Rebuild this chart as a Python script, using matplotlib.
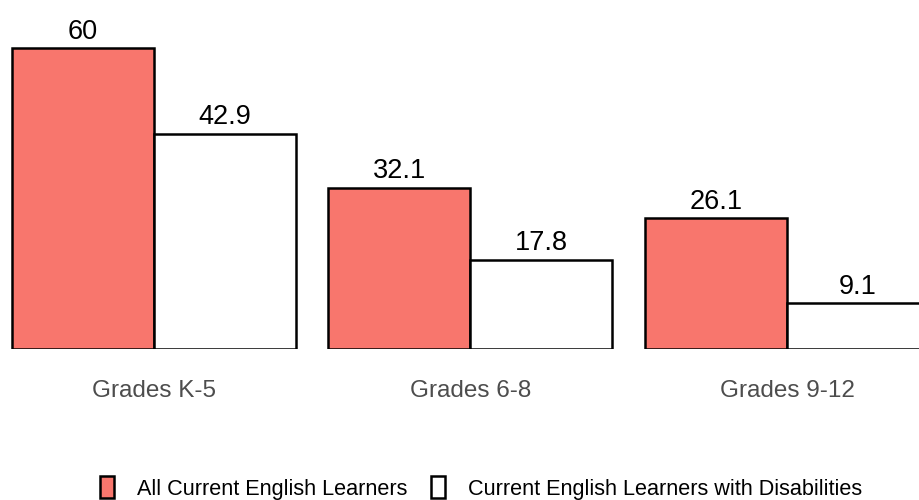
import matplotlib
matplotlib.use("Agg")
import matplotlib.pyplot as plt
import numpy as np
from matplotlib.patches import Patch

categories = ["Grades K-5", "Grades 6-8", "Grades 9-12"]
series_names = ["All Current English Learners", "Current English Learners with Disabilities"]
all_el = [60, 32.1, 26.1]
el_dis = [42.9, 17.8, 9.1]
value_labels_all = ["60", "32.1", "26.1"]
value_labels_dis = ["42.9", "17.8", "9.1"]

colors = ["#F8766D", "#FFFFFF"]

plt.rcParams['font.family'] = ['Liberation Sans', 'DejaVu Sans']

W, H = 920, 500
fig = plt.figure(figsize=(W/100, H/100), dpi=100)
base_px = 349
ax = fig.add_axes([0, (H - base_px)/H, 1, base_px/H])

pitch = 316.5
bw = 142/pitch
x = np.arange(len(categories))
left_px = 154
ax.set_xlim(-left_px/pitch, (W - left_px)/pitch)
ax.set_ylim(0, base_px/5.017)

b1 = ax.bar(x - bw/2, all_el, width=bw, color=colors[0], edgecolor="black", linewidth=1.8)
b2 = ax.bar(x + bw/2, el_dis, width=bw, color=colors[1], edgecolor="black", linewidth=1.8)

for xi, v, lab in zip(x - bw/2, all_el, value_labels_all):
    ax.annotate(lab, (xi, v), xytext=(0, 2.5), textcoords="offset points",
                ha="center", va="bottom", fontsize=19.5, color="black")
for xi, v, lab in zip(x + bw/2, el_dis, value_labels_dis):
    ax.annotate(lab, (xi, v), xytext=(0, 2.5), textcoords="offset points",
                ha="center", va="bottom", fontsize=19.5, color="black")

for s in ax.spines.values():
    s.set_visible(False)
ax.set_yticks([])
ax.set_xticks(x)
ax.set_xticklabels(categories, fontsize=17.5, color="#4D4D4D")
ax.tick_params(axis="x", length=0, pad=22)

handles = [Patch(facecolor=colors[0], edgecolor="black", linewidth=1.8),
           Patch(facecolor=colors[1], edgecolor="black", linewidth=1.8)]
fig.legend(handles, series_names, loc="center", bbox_to_anchor=(481/W, 1 - 488/H),
           ncol=2, frameon=False, fontsize=15.6, handlelength=0.65, handleheight=1.15,
           handletextpad=1.05, columnspacing=1.1, borderpad=0)

fig.savefig("out.png", dpi=100, facecolor="white")
